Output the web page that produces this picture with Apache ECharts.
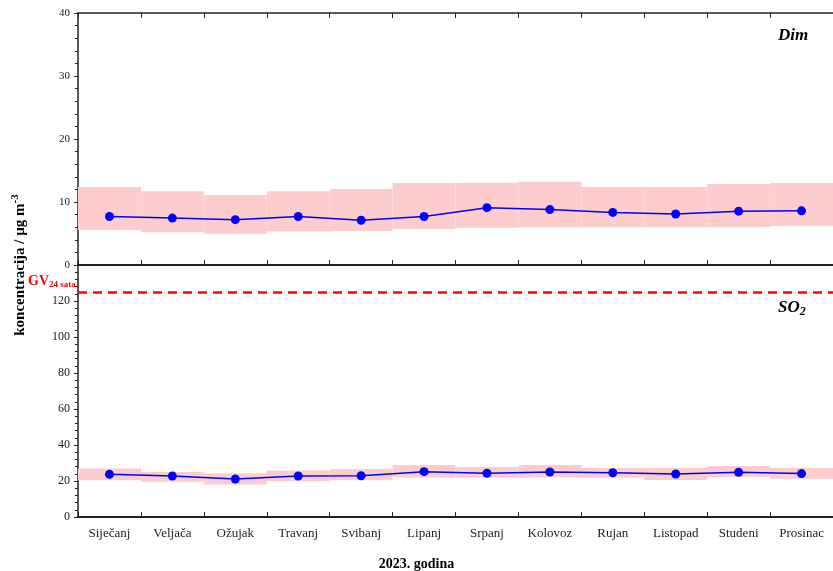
<!DOCTYPE html>
<html><head><meta charset="utf-8">
<script src="https://cdn.jsdelivr.net/npm/echarts@6/dist/echarts.min.js"></script>
<style>html,body{margin:0;padding:0;background:#fff}#c{width:833px;height:571px}</style>
</head><body><div id="c"></div>
<script>
const months = ['Siječanj','Veljača','Ožujak','Travanj','Svibanj','Lipanj','Srpanj','Kolovoz','Rujan','Listopad','Studeni','Prosinac'];
const dimMean = [7.7, 7.45, 7.2, 7.7, 7.1, 7.7, 9.1, 8.8, 8.35, 8.1, 8.55, 8.6];
const dimLow  = [5.55, 5.2, 4.95, 5.3, 5.4, 5.7, 5.9, 6.0, 6.05, 6.05, 6.05, 6.2];
const dimHigh = [12.4, 11.7, 11.1, 11.7, 12.05, 13.0, 13.05, 13.2, 12.4, 12.4, 12.85, 13.0];
const so2Mean = [23.7, 22.8, 21.1, 22.8, 22.9, 25.2, 24.3, 25.0, 24.6, 23.9, 24.8, 24.1];
const so2Low  = [20.4, 19.6, 18.1, 19.8, 20.4, 21.9, 21.9, 22.0, 21.9, 20.6, 22.2, 21.3];
const so2High = [27.0, 25.0, 24.3, 25.9, 26.7, 28.9, 27.8, 28.9, 27.2, 27.2, 28.3, 27.2];
const so2Limit = 125;
const dimTicks = [0, 10, 20, 30, 40];
const so2Ticks = [0, 20, 40, 60, 80, 100, 120, 140];

const FONT = 'Liberation Serif';
const chart = echarts.init(document.getElementById('c'), null, {renderer: 'canvas'});

function xAx(gridIndex, pos, showLabels) {
  return {
    type: 'category', data: months, gridIndex: gridIndex, position: pos,
    boundaryGap: true,
    axisLine: {show: true, lineStyle: {color: '#222', width: pos === 'top' ? 1.5 : 2}},
    axisTick: {show: true, inside: true, length: 5, lineStyle: {color: '#222', width: 1}},
    axisLabel: {show: showLabels, color: '#222', fontFamily: FONT, fontSize: 13, margin: 10},
    splitLine: {show: false}
  };
}
function yAx(gridIndex, ticks, fs, hideMax) {
  return {
    type: 'value', gridIndex: gridIndex,
    min: ticks[0], max: ticks[ticks.length - 1], interval: ticks[1] - ticks[0],
    axisLine: {show: true, lineStyle: {color: '#222', width: 1.5}},
    axisTick: {show: true, length: 4, lineStyle: {color: '#222'}},
    minorTick: {show: true, splitNumber: 5, length: 3, lineStyle: {color: '#222'}},
    axisLabel: {color: '#222', fontFamily: FONT, fontSize: fs, margin: 8,
      formatter: function (v) { return (hideMax && v === ticks[ticks.length - 1]) ? '' : String(v); }},
    splitLine: {show: false}
  };
}
const pink = '#fdcdcd';
function bandSeries(xi, yi, low, high, st) {
  return [
    {type: 'bar', xAxisIndex: xi, yAxisIndex: yi, stack: st, data: low, barCategoryGap: '0%',
     itemStyle: {color: 'rgba(0,0,0,0)'}, silent: true, z: 1},
    {type: 'bar', xAxisIndex: xi, yAxisIndex: yi, stack: st, data: high.map((h, i) => +(h - low[i]).toFixed(3)),
     barCategoryGap: '0%', itemStyle: {color: pink}, silent: true, z: 1}
  ];
}
function lineSeries(xi, yi, data, extra) {
  return Object.assign({
    type: 'line', xAxisIndex: xi, yAxisIndex: yi, data: data,
    symbol: 'circle', symbolSize: 9, itemStyle: {color: '#0000ff'},
    lineStyle: {color: '#0000ff', width: 1.5}, z: 5, animation: false
  }, extra || {});
}

const option = {
  animation: false,
  backgroundColor: '#fff',
  grid: [
    {left: 78, top: 13, width: 756, height: 252},
    {left: 78, top: 265, width: 756, height: 252}
  ],
  xAxis: [xAx(0, 'bottom', false), xAx(0, 'top', false), xAx(1, 'bottom', true)],
  yAxis: [yAx(0, dimTicks, 11, false), yAx(1, so2Ticks, 12, true)],
  series: [
    ...bandSeries(0, 0, dimLow, dimHigh, 'dim'),
    ...bandSeries(2, 1, so2Low, so2High, 'so2'),
    lineSeries(0, 0, dimMean),
    lineSeries(2, 1, so2Mean, {
      markLine: {silent: true, symbol: 'none', label: {show: false},
        lineStyle: {color: '#ff0000', type: [9, 6], width: 2.5},
        data: [{yAxis: so2Limit}]}
    })
  ],
  graphic: [
    {type: 'text', left: 778, top: 27, style: {text: 'Dim', font: 'italic bold 17px "Liberation Serif"', fill: '#000'}},
    {type: 'text', left: 778, top: 299, style: {
      text: '{a|SO}{b|2}', rich: {
        a: {font: 'italic bold 17px "Liberation Serif"', fill: '#000'},
        b: {font: 'italic bold 12px "Liberation Serif"', fill: '#000', padding: [8, 0, 0, 0]}
      }}},
    {type: 'text', left: 28, top: 274, style: {
      text: '{a|GV}{b|24 sata}', rich: {
        a: {font: 'bold 14px "Liberation Serif"', fill: '#ff0000'},
        b: {font: 'bold 9px "Liberation Serif"', fill: '#ff0000', padding: [7, 0, 0, 0]}
      }}},
    {type: 'text', x: 20, y: 265, rotation: Math.PI / 2, style: {
      text: '{a|koncentracija / µg m}{b|-3}', align: 'center', verticalAlign: 'middle', rich: {
        a: {font: 'bold 15px "Liberation Serif"', fill: '#000'},
        b: {font: 'bold 11px "Liberation Serif"', fill: '#000', padding: [0, 0, 9, 0]}
      }}},
    {type: 'text', left: 'center', top: 557, style: {text: '2023. godina', font: 'bold 14px "Liberation Serif"', fill: '#000'}}
  ]
};
chart.setOption(option);
</script>
</body></html>
